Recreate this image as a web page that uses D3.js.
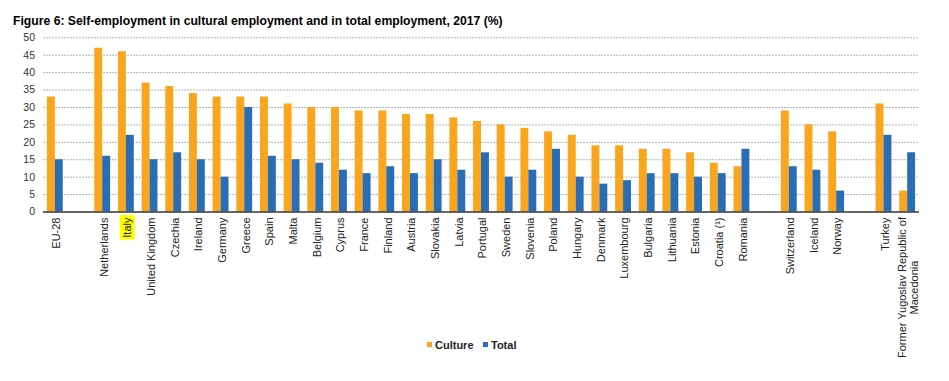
<!DOCTYPE html>
<html><head><meta charset="utf-8">
<script src="https://cdn.jsdelivr.net/npm/d3@7"></script>
<style>body{margin:0;background:#fff;}svg{display:block;font-family:Arial,"Liberation Sans",sans-serif;}</style>
</head><body>
<script>
const categories = ["EU-28", "", "Netherlands", "Italy", "United Kingdom", "Czechia", "Ireland", "Germany", "Greece", "Spain", "Malta", "Belgium", "Cyprus", "France", "Finland", "Austria", "Slovakia", "Latvia", "Portugal", "Sweden", "Slovenia", "Poland", "Hungary", "Denmark", "Luxembourg", "Bulgaria", "Lithuania", "Estonia", "Croatia (¹)", "Romania", "", "Switzerland", "Iceland", "Norway", "", "Turkey", "Former Yugoslav Republic of\nMacedonia"];
const culture = [33, null, 47, 46, 37, 36, 34, 33, 33, 33, 31, 30, 30, 29, 29, 28, 28, 27, 26, 25, 24, 23, 22, 19, 19, 18, 18, 17, 14, 13, null, 29, 25, 23, null, 31, 6];
const total   = [15, null, 16, 22, 15, 17, 15, 10, 30, 16, 15, 14, 12, 11, 13, 11, 15, 12, 17, 10, 12, 18, 10, 8, 9, 11, 11, 10, 11, 18, null, 13, 12, 6, null, 22, 17];
const seriesNames = ["Culture", "Total"];
const colors = ["#F9A51E", "#2A6DB5"];
const yTicks = [0, 5, 10, 15, 20, 25, 30, 35, 40, 45, 50];
const highlighted = "Italy";
const title = "Figure 6: Self-employment in cultural employment and in total employment, 2017 (%)";

const W = 949, H = 381;
const m = {left: 43, right: 30, top: 37.3, bottom: 169.5};
const svg = d3.select("body").append("svg").attr("width", W).attr("height", H);

const x0 = d3.scaleBand().domain(d3.range(categories.length)).range([m.left, W - m.right]).paddingInner(0.33).paddingOuter(0.165);
const x1 = d3.scaleBand().domain(seriesNames).range([0, x0.bandwidth()]);
const y = d3.scaleLinear().domain([0, 50]).range([H - m.bottom, m.top]);

svg.append("text").attr("x", 13).attr("y", 25).attr("font-weight", "bold").attr("font-size", 12.2)
  .attr("fill", "#000").text(title);

// gridlines
svg.append("g").selectAll("line").data(yTicks.filter(d => d > 0)).join("line")
  .attr("x1", m.left).attr("x2", W - m.right).attr("y1", d => y(d) + 0.5).attr("y2", d => y(d) + 0.5)
  .attr("stroke", "#b3b3b3").attr("stroke-width", 1).attr("stroke-dasharray", "2,1");

// y axis labels
const yAxis = d3.axisLeft(y).tickValues(yTicks).tickSize(0).tickPadding(8);
const gy = svg.append("g").attr("transform", `translate(${m.left},0)`).call(yAxis);
gy.select(".domain").remove();
gy.selectAll("text").attr("font-size", 10.5).attr("fill", "#333").attr("font-family", "Arial, 'Liberation Sans', sans-serif");

// bars
const data = categories.map((c, i) => ({i, c, vals: [culture[i], total[i]]}));
const groups = svg.append("g").selectAll("g").data(data.filter(d => d.vals[0] != null)).join("g")
  .attr("transform", d => `translate(${x0(d.i)},0)`);
groups.selectAll("rect").data(d => seriesNames.map((s, k) => ({s, k, v: d.vals[k]}))).join("rect")
  .attr("x", d => x1(d.s)).attr("width", x1.bandwidth())
  .attr("y", d => y(d.v)).attr("height", d => y(0) - y(d.v))
  .attr("fill", d => colors[d.k]);

// x axis line
svg.append("line").attr("x1", m.left).attr("x2", W - m.right).attr("y1", y(0) + 0.5).attr("y2", y(0) + 0.5)
  .attr("stroke", "#333").attr("stroke-width", 1.3);

// x labels
const xl = svg.append("g");
data.filter(d => d.c !== "").forEach(d => {
  const cx = x0(d.i) + x0.bandwidth() / 2 + 1.5;
  const lines = d.c.split("\n");
  if (lines.length === 1) {
    const t = xl.append("text").attr("transform", `translate(${cx},${y(0) + 6}) rotate(-90)`)
      .attr("text-anchor", "end").attr("dy", "0.35em").attr("font-size", 11).attr("fill", "#222").text(d.c);
    if (d.c === highlighted) {
      const bb = t.node().getBBox();
      xl.insert("rect", "text").attr("transform", `translate(${cx},${y(0) + 6}) rotate(-90)`)
        .attr("x", bb.x - 2).attr("y", bb.y - 1.5).attr("width", bb.width + 4).attr("height", bb.height + 3)
        .attr("fill", "#FFFF00");
    }
  } else {
    const t = xl.append("text").attr("transform", `translate(${cx},${y(0) + 6 + 70}) rotate(-90)`)
      .attr("text-anchor", "middle").attr("font-size", 11).attr("fill", "#222");
    lines.forEach((ln, k) => t.append("tspan").attr("x", 0).attr("dy", k === 0 ? "-0.25em" : "1.1em").text(ln));
  }
});

// legend
const lg = svg.append("g").attr("transform", "translate(427,345)");
const items = [{n: seriesNames[0], c: colors[0], x: 0}, {n: seriesNames[1], c: colors[1], x: 56}];
items.forEach(it => {
  lg.append("rect").attr("x", it.x).attr("y", -3).attr("width", 5).attr("height", 5).attr("fill", it.c);
  lg.append("text").attr("x", it.x + 8).attr("y", 0).attr("dy", "0.35em").attr("font-size", 11)
    .attr("font-weight", "bold").attr("fill", "#222").text(it.n);
});
</script>
</body></html>
